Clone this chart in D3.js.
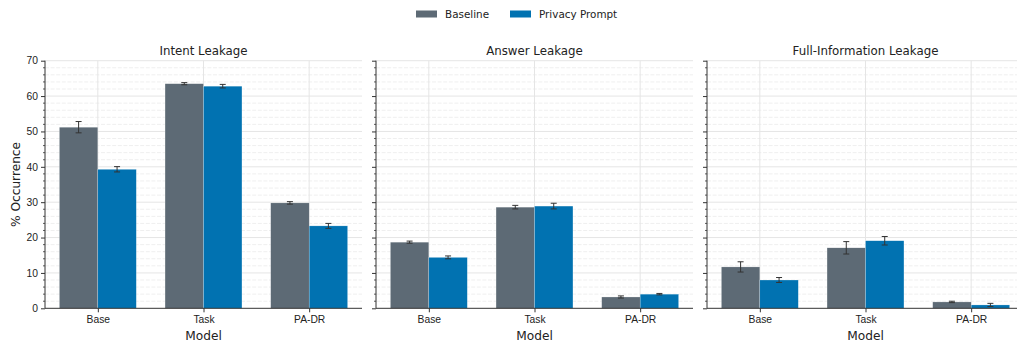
<!DOCTYPE html>
<html>
<head>
<meta charset="utf-8">
<script src="https://cdn.jsdelivr.net/npm/d3@7"></script>
<style>
  body { margin: 0; background: #fff; }
  svg { display: block; font-family: "DejaVu Sans", sans-serif; }
</style>
</head>
<body>
<svg id="chart" width="1017" height="345"></svg>
<script>
// Categories, series and measured values (% occurrence, with error half-widths)
const models = ["Base", "Task", "PA-DR"];
const seriesNames = ["Baseline", "Privacy Prompt"];
const panelTitles = ["Intent Leakage", "Answer Leakage", "Full-Information Leakage"];

const intentBaseline = [51.2, 63.5, 29.8];
const intentBaselineErr = [1.6, 0.3, 0.35];
const intentPrivacy = [39.3, 62.8, 23.3];
const intentPrivacyErr = [0.75, 0.5, 0.7];

const answerBaseline = [18.7, 28.6, 3.2];
const answerBaselineErr = [0.3, 0.5, 0.3];
const answerPrivacy = [14.4, 28.9, 4.0];
const answerPrivacyErr = [0.4, 0.8, 0.2];

const fullBaseline = [11.7, 17.1, 1.8];
const fullBaselineErr = [1.45, 1.75, 0.2];
const fullPrivacy = [8.0, 19.1, 0.95];
const fullPrivacyErr = [0.7, 1.2, 0.45];

const yTicks = [0, 10, 20, 30, 40, 50, 60, 70];

const panels = [
  { title: panelTitles[0], series: [[intentBaseline, intentBaselineErr], [intentPrivacy, intentPrivacyErr]] },
  { title: panelTitles[1], series: [[answerBaseline, answerBaselineErr], [answerPrivacy, answerPrivacyErr]] },
  { title: panelTitles[2], series: [[fullBaseline, fullBaselineErr], [fullPrivacy, fullPrivacyErr]] }
];

const colors = ["#5d6a75", "#0172b1"];
const svg = d3.select("#chart");

const plotTop = 60.7, plotBottom = 308.3;
const panelLefts = [45, 376, 707];
const panelWidth = 317;

const y = d3.scaleLinear().domain([0, 70]).range([plotBottom, plotTop]);
const minorTicks = d3.range(0, 70.01, 2).filter(v => v % 10 !== 0);
const barW = 0.364;

panels.forEach((p, i) => {
  const left = panelLefts[i];
  const x = d3.scaleLinear().domain([-0.5, 2.5]).range([left, left + panelWidth]);
  const g = svg.append("g");

  // minor dashed grid
  g.selectAll(".minor").data(minorTicks).join("line")
    .attr("x1", left).attr("x2", left + panelWidth)
    .attr("y1", d => y(d)).attr("y2", d => y(d))
    .attr("stroke", "#efefef").attr("stroke-width", 1)
    .attr("stroke-dasharray", "4,1.6");
  // major grid
  g.selectAll(".major").data(yTicks.slice(1)).join("line")
    .attr("x1", left).attr("x2", left + panelWidth)
    .attr("y1", d => y(d)).attr("y2", d => y(d))
    .attr("stroke", "#e5e5e5").attr("stroke-width", 1);
  // vertical grid at categories
  g.selectAll(".vgrid").data(models).join("line")
    .attr("x1", (d, k) => x(k)).attr("x2", (d, k) => x(k))
    .attr("y1", plotTop).attr("y2", plotBottom)
    .attr("stroke", "#e5e5e5").attr("stroke-width", 1);

  // bars
  p.series.forEach(([vals, errs], s) => {
    const offset = s === 0 ? -barW / 2 : barW / 2;
    g.selectAll(".bar" + s).data(vals).join("rect")
      .attr("x", (d, k) => x(k + offset - barW / 2))
      .attr("width", x(barW) - x(0))
      .attr("y", d => y(d))
      .attr("height", d => plotBottom - y(d))
      .attr("fill", colors[s])
      .attr("stroke", "#ffffff").attr("stroke-width", 0.4).attr("stroke-opacity", 0.6);
    // error bars
    vals.forEach((v, k) => {
      const cx = x(k + offset);
      const e = errs[k];
      const eg = g.append("g").attr("stroke", "#333").attr("stroke-width", 1);
      eg.append("line").attr("x1", cx).attr("x2", cx).attr("y1", y(v - e)).attr("y2", y(v + e));
      eg.append("line").attr("x1", cx - 3).attr("x2", cx + 3).attr("y1", y(v - e)).attr("y2", y(v - e));
      eg.append("line").attr("x1", cx - 3).attr("x2", cx + 3).attr("y1", y(v + e)).attr("y2", y(v + e));
    });
  });

  // y axis
  const yAxis = d3.axisLeft(y).tickValues(yTicks).tickSize(4).tickPadding(3)
    .tickFormat(i === 0 ? d3.format("d") : () => "");
  const ya = g.append("g").attr("transform", `translate(${left},0)`).call(yAxis);
  ya.selectAll("line, path").attr("stroke", "#333");
  ya.select("path").attr("d", `M0,${plotTop}V${plotBottom}`);
  ya.selectAll("text").attr("font-size", 10.3).attr("fill", "#222");
  g.selectAll(".mtick").data(minorTicks).join("line")
    .attr("x1", left - 2).attr("x2", left).attr("y1", d => y(d)).attr("y2", d => y(d))
    .attr("stroke", "#333").attr("stroke-width", 0.8);

  // x axis
  const xAxis = d3.axisBottom(x).tickValues([0, 1, 2]).tickSize(4).tickPadding(3)
    .tickFormat(k => models[k]);
  const xa = g.append("g").attr("transform", `translate(0,${plotBottom})`).call(xAxis);
  xa.selectAll("line, path").attr("stroke", "#333");
  xa.select("path").attr("d", `M${left},0H${left + panelWidth}`);
  xa.selectAll("text").attr("font-size", 10.3).attr("fill", "#222");

  // titles
  g.append("text").attr("x", left + panelWidth / 2).attr("y", 55)
    .attr("text-anchor", "middle").attr("font-size", 11.8).attr("fill", "#222").text(p.title);
  g.append("text").attr("x", left + panelWidth / 2).attr("y", 340)
    .attr("text-anchor", "middle").attr("font-size", 12.2).attr("fill", "#222").text("Model");
});

// y axis label
svg.append("text")
  .attr("transform", `translate(20,${(plotTop + plotBottom) / 2}) rotate(-90)`)
  .attr("text-anchor", "middle").attr("font-size", 12.2).attr("fill", "#222")
  .text("% Occurrence");

// legend
const legendX = [416, 510];
seriesNames.forEach((name, s) => {
  svg.append("rect").attr("x", legendX[s]).attr("y", 10.5).attr("width", 21).attr("height", 7)
    .attr("fill", colors[s]);
  svg.append("text").attr("x", legendX[s] + 29).attr("y", 18)
    .attr("font-size", 10.4).attr("fill", "#222").text(name);
});
</script>
</body>
</html>
